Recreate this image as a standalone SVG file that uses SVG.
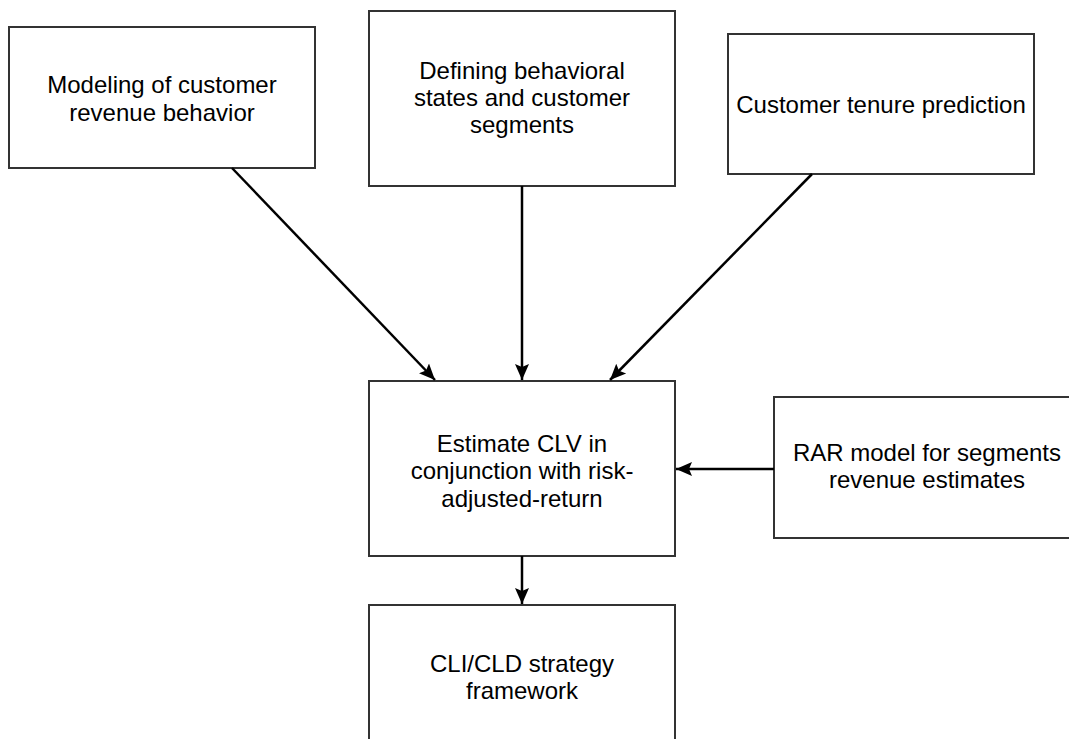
<svg xmlns="http://www.w3.org/2000/svg" width="1069" height="739" viewBox="0 0 1069 739">
<style>
.box{fill:#fff;stroke:#333;stroke-width:2}
.lbl{font-family:"Liberation Sans",Arial,Helvetica,sans-serif;font-size:24px;fill:#000;text-anchor:middle}
.edge{stroke:#000;stroke-width:2.5;fill:none;marker-end:url(#ah)}
</style>
<defs>
<marker id="ah" markerUnits="userSpaceOnUse" markerWidth="18" markerHeight="16" refX="16" refY="8" orient="auto">
<path d="M0,1 L16,8 L0,15 L3,8 Z" fill="#000"/>
</marker>
</defs>
<rect width="1069" height="739" fill="#fff"/>
<g id="n1">
<rect class="box" x="9" y="27" width="306" height="141"/>
<text class="lbl" x="162" y="93">Modeling of customer</text>
<text class="lbl" x="162" y="121">revenue behavior</text>
</g>
<g id="n2">
<rect class="box" x="369" y="11" width="306" height="175"/>
<text class="lbl" x="522" y="79">Defining behavioral</text>
<text class="lbl" x="522" y="106">states and customer</text>
<text class="lbl" x="522" y="133">segments</text>
</g>
<g id="n3">
<rect class="box" x="728" y="34" width="306" height="140"/>
<text class="lbl" x="881" y="113">Customer tenure prediction</text>
</g>
<g id="n4">
<rect class="box" x="369" y="381" width="306" height="175"/>
<text class="lbl" x="522" y="452">Estimate CLV in</text>
<text class="lbl" x="522" y="479">conjunction with risk-</text>
<text class="lbl" x="522" y="507">adjusted-return</text>
</g>
<g id="n5">
<rect class="box" x="774" y="397" width="306" height="141"/>
<text class="lbl" x="927" y="461">RAR model for segments</text>
<text class="lbl" x="927" y="488">revenue estimates</text>
</g>
<g id="n6">
<rect class="box" x="369" y="605" width="306" height="175"/>
<text class="lbl" x="522" y="672">CLI/CLD strategy</text>
<text class="lbl" x="522" y="699">framework</text>
</g>
<g id="connectors">
<line class="edge" x1="232" y1="168" x2="435" y2="380"/>
<line class="edge" x1="522" y1="186" x2="522" y2="380"/>
<line class="edge" x1="812" y1="174" x2="610" y2="380"/>
<line class="edge" x1="774" y1="469" x2="676" y2="469"/>
<line class="edge" x1="522" y1="556" x2="522" y2="604"/>
</g>
</svg>
